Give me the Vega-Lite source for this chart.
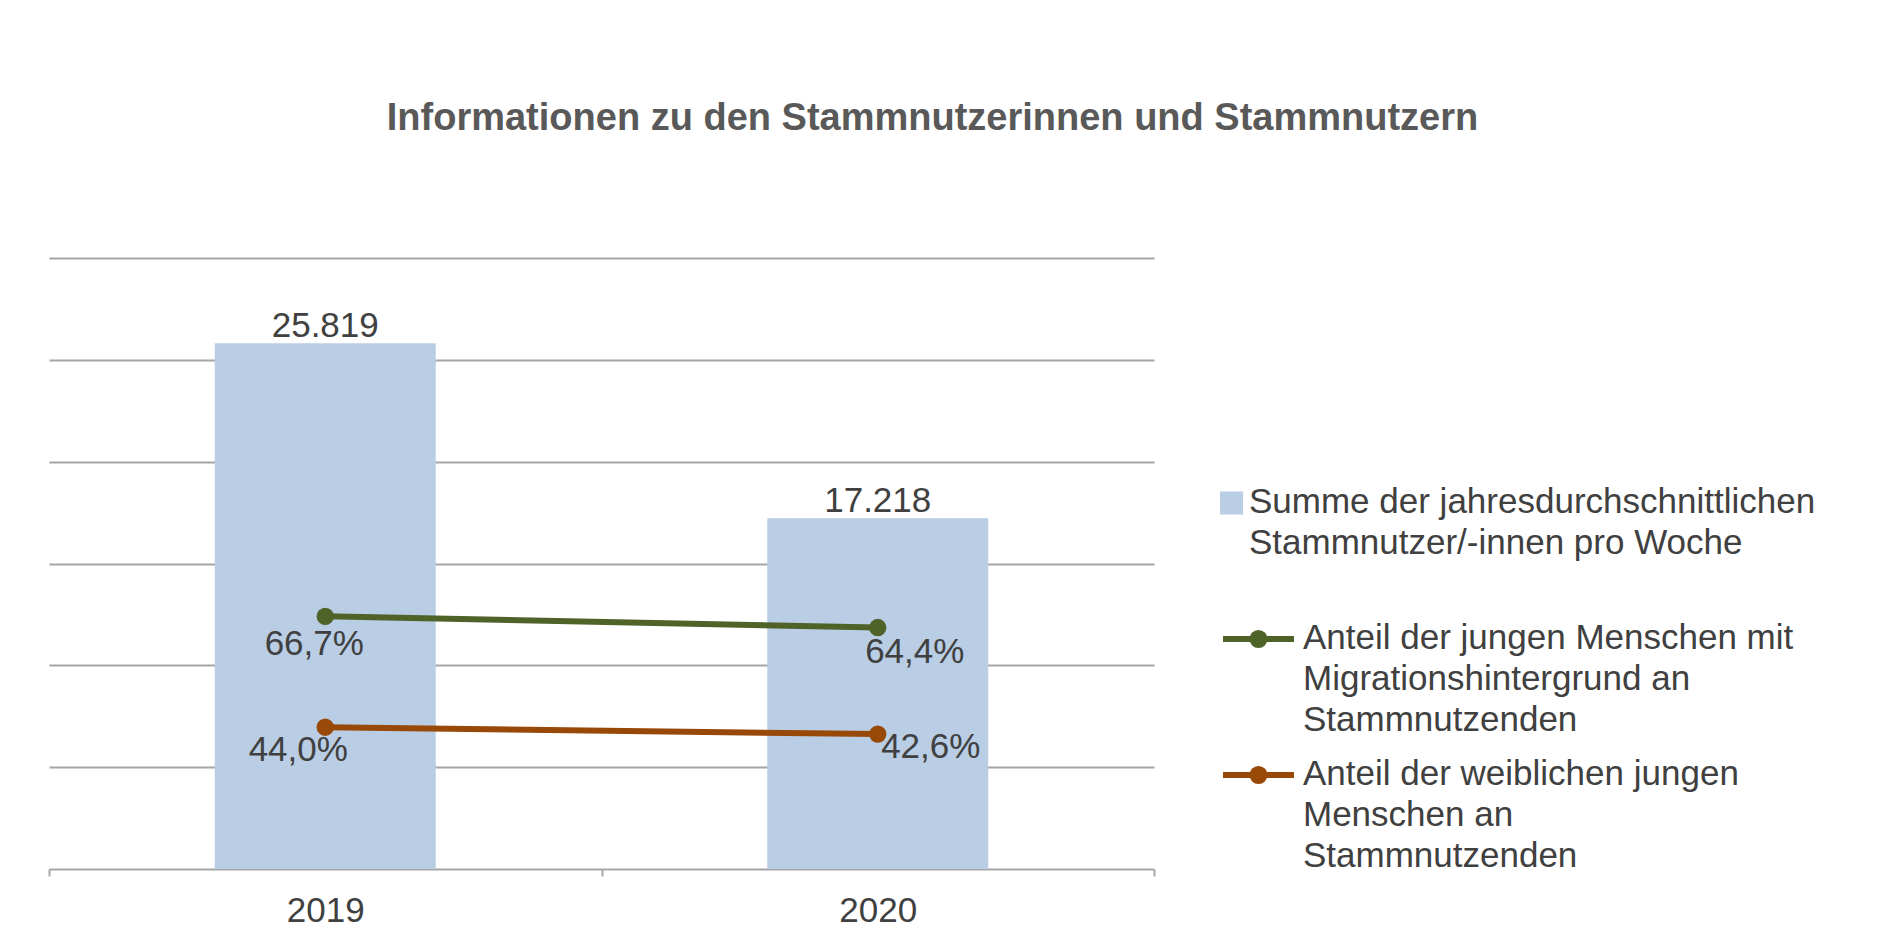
{
  "$schema": "https://vega.github.io/schema/vega-lite/v6.json",
  "width": 1105,
  "height": 611,
  "autosize": {"type": "none"},
  "padding": {"left": 49, "top": 258, "right": 738, "bottom": 62},
  "background": "white",
  "config": {
    "font": "Liberation Sans",
    "view": {"stroke": null},
    "locale": {"number": {"decimal": ",", "thousands": ".", "grouping": [3], "currency": ["", " €"]}}
  },
  "title": {
    "text": "Informationen zu den Stammnutzerinnen und Stammnutzern",
    "font": "Liberation Sans",
    "fontSize": 38,
    "fontWeight": "bold",
    "color": "#595959",
    "anchor": "middle",
    "frame": "group",
    "dx": 331,
    "baseline": "alphabetic",
    "offset": 90
  },
  "layer": [
    {
      "data": {"values": [
        {"year": "2019", "users": 25819, "series": "Summe der jahresdurchschnittlichen Stammnutzer/-innen pro Woche"},
        {"year": "2020", "users": 17218, "series": "Summe der jahresdurchschnittlichen Stammnutzer/-innen pro Woche"}
      ]},
      "layer": [
        {
          "mark": {"type": "bar", "width": {"band": 0.4}},
          "encoding": {
            "x": {
              "field": "year", "type": "nominal",
              "scale": {"paddingInner": 0, "paddingOuter": 0},
              "axis": {
                "title": null, "labelAngle": 0, "tickBand": "extent",
                "ticks": true, "tickSize": 7, "tickColor": "#A6A6A6", "tickWidth": 2,
                "domain": true, "domainColor": "#A6A6A6", "domainWidth": 2,
                "grid": false,
                "labelFont": "Liberation Sans", "labelFontSize": 35, "labelColor": "#404040",
                "labelBaseline": "alphabetic", "labelPadding": 45
              }
            },
            "y": {
              "field": "users", "type": "quantitative",
              "scale": {"domain": [0, 30000], "nice": false},
              "axis": {
                "title": null, "labels": false, "ticks": false, "domain": false,
                "grid": true, "gridColor": "#A6A6A6", "gridWidth": 2,
                "values": [5000, 10000, 15000, 20000, 25000, 30000]
              }
            },
            "color": {
              "field": "series", "type": "nominal",
              "scale": {
                "domain": [
                  "Summe der jahresdurchschnittlichen Stammnutzer/-innen pro Woche",
                  "Anteil der jungen Menschen mit Migrationshintergrund an Stammnutzenden",
                  "Anteil der weiblichen jungen Menschen an Stammnutzenden"
                ],
                "range": ["#B9CDE5", "#4F6228", "#984807"]
              },
              "legend": {
                "orient": "none", "legendX": 1171, "legendY": 208,
                "title": null, "padding": 0,
                "symbolSize": 5041, "symbolStrokeWidth": 6,
                "clipHeight": 74,
                "labelFont": "Liberation Sans", "labelFontSize": 35, "labelColor": "#404040",
                "labelLimit": 1000, "labelBaseline": "alphabetic", "labelOffset": 6,
                "rowPadding": 0,
                "labelExpr": "indexof(datum.value, 'Summe') == 0 ? ['Summe der jahresdurchschnittlichen', 'Stammnutzer/-innen pro Woche', ''] : (indexof(datum.value, 'Migration') > 0 ? ['Anteil der jungen Menschen mit', 'Migrationshintergrund an', 'Stammnutzenden'] : ['Anteil der weiblichen jungen', 'Menschen an', 'Stammnutzenden'])",
                "encode": {
                  "symbols": {"update": {
                    "shape": {"signal": "indexof(datum.value, 'Summe') == 0 ? 'M-1,-0.24H-0.52V0.24H-1Z' : 'M-1,0H1M-0.17,0A0.17,0.17,0,1,0,0.17,0A0.17,0.17,0,1,0,-0.17,0Z'"},
                    "fill": {"scale": "color", "field": "value"},
                    "stroke": {"signal": "indexof(datum.value, 'Summe') == 0 ? 'transparent' : scale('color', datum.value)"},
                    "strokeWidth": {"value": 6},
                    "size": {"value": 5041},
                    "opacity": {"value": 1}
                  }},
                  "labels": {"update": {
                    "dx": {"signal": "indexof(datum.value, 'Summe') == 0 ? -54 : 0"},
                    "dy": {"value": 10},
                    "lineHeight": {"value": 41}
                  }}
                }
              }
            }
          }
        },
        {
          "mark": {"type": "text", "dy": -6, "baseline": "alphabetic", "fontSize": 35, "color": "#404040", "font": "Liberation Sans"},
          "encoding": {
            "x": {"field": "year", "type": "nominal"},
            "y": {"field": "users", "type": "quantitative"},
            "text": {"field": "users", "type": "quantitative", "format": ",d"}
          }
        }
      ]
    },
    {
      "data": {"values": [
        {"year": "2019", "share": 0.667, "series": "Anteil der jungen Menschen mit Migrationshintergrund an Stammnutzenden"},
        {"year": "2020", "share": 0.644, "series": "Anteil der jungen Menschen mit Migrationshintergrund an Stammnutzenden"},
        {"year": "2019", "share": 0.44, "series": "Anteil der weiblichen jungen Menschen an Stammnutzenden"},
        {"year": "2020", "share": 0.426, "series": "Anteil der weiblichen jungen Menschen an Stammnutzenden"}
      ]},
      "layer": [
        {
          "mark": {"type": "line", "strokeWidth": 6, "point": {"filled": true, "size": 300}},
          "encoding": {
            "x": {"field": "year", "type": "nominal"},
            "y": {"field": "share", "type": "quantitative", "scale": {"domain": [0.15, 1.4], "nice": false, "zero": false}, "axis": null},
            "color": {
              "field": "series", "type": "nominal",
              "scale": {
                "domain": [
                  "Summe der jahresdurchschnittlichen Stammnutzer/-innen pro Woche",
                  "Anteil der jungen Menschen mit Migrationshintergrund an Stammnutzenden",
                  "Anteil der weiblichen jungen Menschen an Stammnutzenden"
                ],
                "range": ["#B9CDE5", "#4F6228", "#984807"]
              }
            }
          }
        },
        {
          "mark": {
            "type": "text", "baseline": "alphabetic", "align": "center", "fontSize": 35, "color": "#404040", "font": "Liberation Sans",
            "dx": {"expr": "datum.share > 0.5 ? (datum.year == '2019' ? -11 : 37) : (datum.year == '2019' ? -27 : 53)"},
            "dy": {"expr": "datum.share > 0.5 ? (datum.year == '2019' ? 39 : 35) : (datum.year == '2019' ? 34 : 24)"}
          },
          "encoding": {
            "x": {"field": "year", "type": "nominal"},
            "y": {"field": "share", "type": "quantitative"},
            "text": {"field": "share", "type": "quantitative", "format": ".1%"}
          }
        }
      ]
    }
  ],
  "resolve": {"scale": {"y": "independent"}}
}
